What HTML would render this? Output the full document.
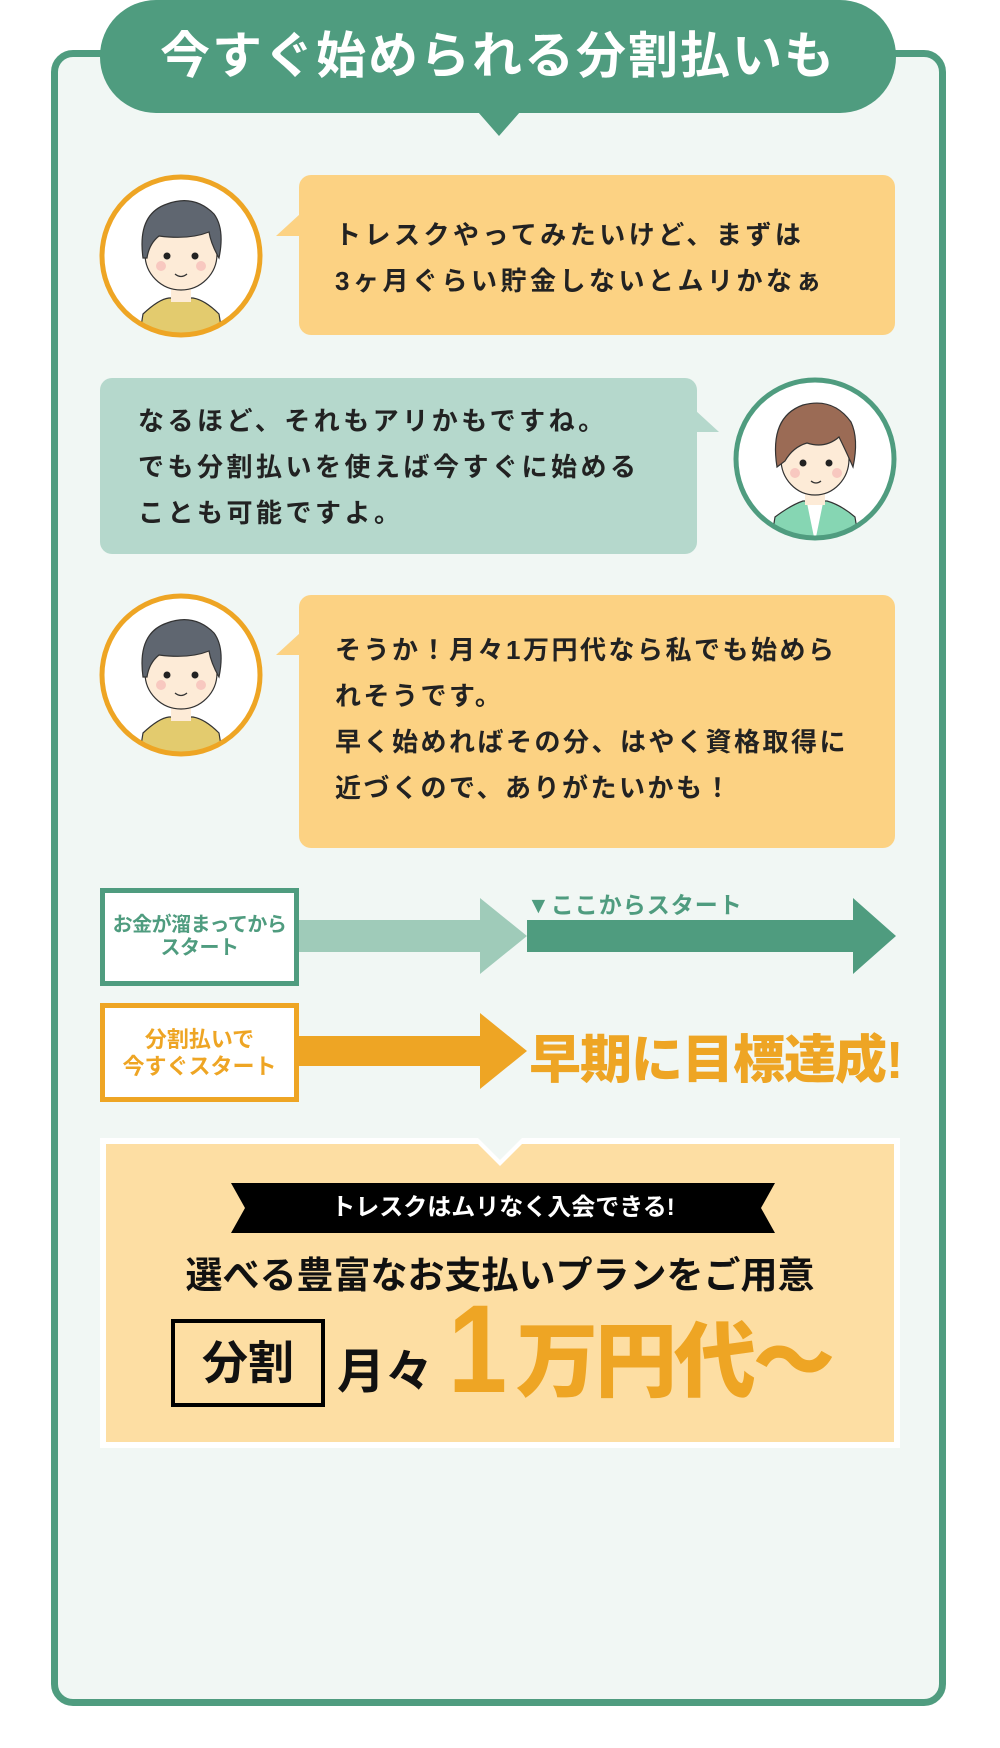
<!DOCTYPE html>
<html><head><meta charset="utf-8"><style>
*{margin:0;padding:0;box-sizing:border-box}
body{width:1000px;height:1748px;background:#fff;position:relative;overflow:hidden;font-family:"Liberation Sans","Noto Sans CJK JP",sans-serif;font-weight:bold;color:#222}
.abs{position:absolute}
.frame{left:51px;top:50px;width:895px;height:1656px;border:7px solid #4f9c7f;border-radius:22px;background:#f1f7f4}
.pill{left:100px;top:0;width:796px;height:113px;background:#4f9c7f;border-radius:56px;color:#fff;font-size:50px;text-align:center;line-height:113px;letter-spacing:2px}
.tri{width:0;height:0}
.bub{border-radius:12px;font-size:26px;letter-spacing:3.5px;line-height:46px}
.box{background:#fff;text-align:center;font-size:20px;line-height:23px;display:flex;align-items:center;justify-content:center}
</style></head><body>
<div class="abs frame"></div>
<div class="abs pill">今すぐ始められる分割払いも</div>
<div class="abs tri" style="left:478px;top:112px;border-left:21px solid transparent;border-right:21px solid transparent;border-top:24px solid #4f9c7f"></div>

<div class="abs tri" style="left:276px;top:214px;border-top:22px solid transparent;border-right:24px solid #fcd283"></div>
<div class="abs bub" style="left:299px;top:175px;width:596px;height:160px;background:#fcd283;padding:37px 0 0 36px">トレスクやってみたいけど、まずは<br>3ヶ月ぐらい貯金しないとムリかなぁ</div>

<div class="abs tri" style="left:695px;top:410px;border-top:22px solid transparent;border-left:24px solid #b5d8cc"></div>
<div class="abs bub" style="left:100px;top:378px;width:597px;height:176px;background:#b5d8cc;padding:20px 0 0 38px">なるほど、それもアリかもですね。<br>でも分割払いを使えば今すぐに始める<br>ことも可能ですよ。</div>

<div class="abs tri" style="left:276px;top:633px;border-top:22px solid transparent;border-right:24px solid #fcd283"></div>
<div class="abs bub" style="left:299px;top:595px;width:596px;height:253px;background:#fcd283;padding:32px 0 0 36px;letter-spacing:2.5px">そうか！月々1万円代なら私でも始めら<br>れそうです。<br>早く始めればその分、はやく資格取得に<br>近づくので、ありがたいかも！</div>

<svg class="abs" style="left:99px;top:174px" width="164" height="164" viewBox="0 0 164 164">
<defs><clipPath id="c1"><circle cx="82" cy="82" r="78"/></clipPath></defs>
<circle cx="82" cy="82" r="79" fill="#fff"/>
<g clip-path="url(#c1)">
<path d="M40 165 L44 140 Q60 125 70 124 L94 124 Q106 126 120 140 L124 165Z" fill="#e3cb6e" stroke="#333" stroke-width="1.2"/>
<rect x="72" y="108" width="20" height="20" fill="#fdebd7"/>
<ellipse cx="82" cy="80" rx="36" ry="36" fill="#fdebd7" stroke="#333" stroke-width="1.2"/>
<path d="M44 84 Q38 40 68 30 Q95 20 115 40 Q126 55 120 84 Q112 70 110 58 Q90 66 60 62 Q50 70 48 84Z" fill="#5f6670" stroke="#333" stroke-width="1.2"/>
<circle cx="68" cy="82" r="3.5" fill="#222"/><circle cx="96" cy="82" r="3.5" fill="#222"/>
<circle cx="62" cy="92" r="5" fill="#f8c8c0"/><circle cx="102" cy="92" r="5" fill="#f8c8c0"/>
<path d="M76 100 Q82 105 88 100" stroke="#333" stroke-width="1.3" fill="none"/>
</g>
<circle cx="82" cy="82" r="79" fill="none" stroke="#eea524" stroke-width="5"/>
</svg>
<svg class="abs" style="left:99px;top:593px" width="164" height="164" viewBox="0 0 164 164">
<defs><clipPath id="c3"><circle cx="82" cy="82" r="78"/></clipPath></defs>
<circle cx="82" cy="82" r="79" fill="#fff"/>
<g clip-path="url(#c3)">
<path d="M40 165 L44 140 Q60 125 70 124 L94 124 Q106 126 120 140 L124 165Z" fill="#e3cb6e" stroke="#333" stroke-width="1.2"/>
<rect x="72" y="108" width="20" height="20" fill="#fdebd7"/>
<ellipse cx="82" cy="80" rx="36" ry="36" fill="#fdebd7" stroke="#333" stroke-width="1.2"/>
<path d="M44 84 Q38 40 68 30 Q95 20 115 40 Q126 55 120 84 Q112 70 110 58 Q90 66 60 62 Q50 70 48 84Z" fill="#5f6670" stroke="#333" stroke-width="1.2"/>
<circle cx="68" cy="82" r="3.5" fill="#222"/><circle cx="96" cy="82" r="3.5" fill="#222"/>
<circle cx="62" cy="92" r="5" fill="#f8c8c0"/><circle cx="102" cy="92" r="5" fill="#f8c8c0"/>
<path d="M76 100 Q82 105 88 100" stroke="#333" stroke-width="1.3" fill="none"/>
</g>
<circle cx="82" cy="82" r="79" fill="none" stroke="#eea524" stroke-width="5"/>
</svg>
<svg class="abs" style="left:733px;top:377px" width="164" height="164" viewBox="0 0 164 164">
<defs><clipPath id="c2"><circle cx="82" cy="82" r="78"/></clipPath></defs>
<circle cx="82" cy="82" r="79" fill="#fff"/>
<g clip-path="url(#c2)">
<path d="M38 165 L42 140 Q58 128 70 124 L94 124 Q108 128 122 140 L126 165Z" fill="#86d6b3" stroke="#333" stroke-width="1.2"/>
<path d="M74 126 L82 165 L90 126Z" fill="#fff"/>
<rect x="72" y="108" width="20" height="20" fill="#fdebd7"/>
<ellipse cx="82" cy="82" rx="34" ry="36" fill="#fdebd7" stroke="#333" stroke-width="1.2"/>
<path d="M44 90 Q36 40 70 28 Q100 20 118 45 Q126 62 120 90 Q112 72 106 60 Q92 72 74 66 Q60 70 52 84Z" fill="#9b6b55" stroke="#333" stroke-width="1.2"/>
<circle cx="70" cy="86" r="3.5" fill="#222"/><circle cx="96" cy="86" r="3.5" fill="#222"/>
<circle cx="62" cy="96" r="5" fill="#f8c8c0"/><circle cx="104" cy="96" r="5" fill="#f8c8c0"/>
<path d="M78 104 Q83 108 88 104" stroke="#333" stroke-width="1.3" fill="none"/>
</g>
<circle cx="82" cy="82" r="79" fill="none" stroke="#4f9c7f" stroke-width="5"/>
</svg>

<div class="abs box" style="left:100px;top:888px;width:199px;height:98px;border:5px solid #4f9c7f;color:#4f9c7f;letter-spacing:-0.5px">お金が溜まってから<br>スタート</div>
<svg class="abs" style="left:299px;top:898px" width="600" height="76">
<polygon points="0,22 181,22 181,0 228,38 181,76 181,54 0,54" fill="#9fcbb9"/>
<polygon points="228,22 554,22 554,0 597,38 554,76 554,54 228,54" fill="#4f9c7f"/>
</svg>
<div class="abs" style="left:527px;top:886px;font-size:23px;color:#4f9c7f;letter-spacing:1px">▼ここからスタート</div>

<div class="abs box" style="left:100px;top:1003px;width:199px;height:99px;border:5px solid #eea524;color:#eea524;font-size:22px;line-height:27px">分割払いで<br>今すぐスタート</div>
<svg class="abs" style="left:299px;top:1013px" width="230" height="76">
<polygon points="0,23 181,23 181,0 228,38 181,76 181,53 0,53" fill="#eea524"/>
</svg>
<div class="abs" style="left:529px;top:1018px;font-size:52px;color:#eea524;letter-spacing:-1px;font-weight:900">早期に目標達成!</div>

<div class="abs" style="left:100px;top:1138px;width:800px;height:310px;background:#fff;padding:6px"><div style="width:100%;height:100%;background:#fddea3"></div></div>
<div class="abs tri" style="left:472px;top:1138px;border-left:28px solid transparent;border-right:28px solid transparent;border-top:28px solid #fff"></div>
<div class="abs tri" style="left:478px;top:1138px;border-left:22px solid transparent;border-right:22px solid transparent;border-top:22px solid #f1f7f4"></div>
<svg class="abs" style="left:231px;top:1183px" width="544" height="50"><polygon points="0,0 544,0 530,25 544,50 0,50 14,25" fill="#000"/></svg>
<div class="abs" style="left:231px;top:1183px;width:544px;height:50px;line-height:50px;text-align:center;color:#fff;font-size:24px">トレスクはムリなく入会できる!</div>
<div class="abs" style="left:100px;top:1245px;width:800px;text-align:center;font-size:37px;color:#111">選べる豊富なお支払いプランをご用意</div>
<div class="abs" style="left:171px;top:1319px;width:154px;height:88px;border:4px solid #000;text-align:center;line-height:80px;font-size:46px;color:#111">分割</div>
<div class="abs" style="left:337px;top:1332px;font-size:48px;color:#111">月々</div>
<div class="abs" style="left:448px;top:1285px;font-size:125px;color:#eea524;font-weight:900;line-height:130px;transform:scaleX(0.85);transform-origin:left">1</div>
<div class="abs" style="left:516px;top:1318px;font-size:82px;color:#eea524;font-weight:900;line-height:90px;letter-spacing:-3px">万円代〜</div>
</body></html>
